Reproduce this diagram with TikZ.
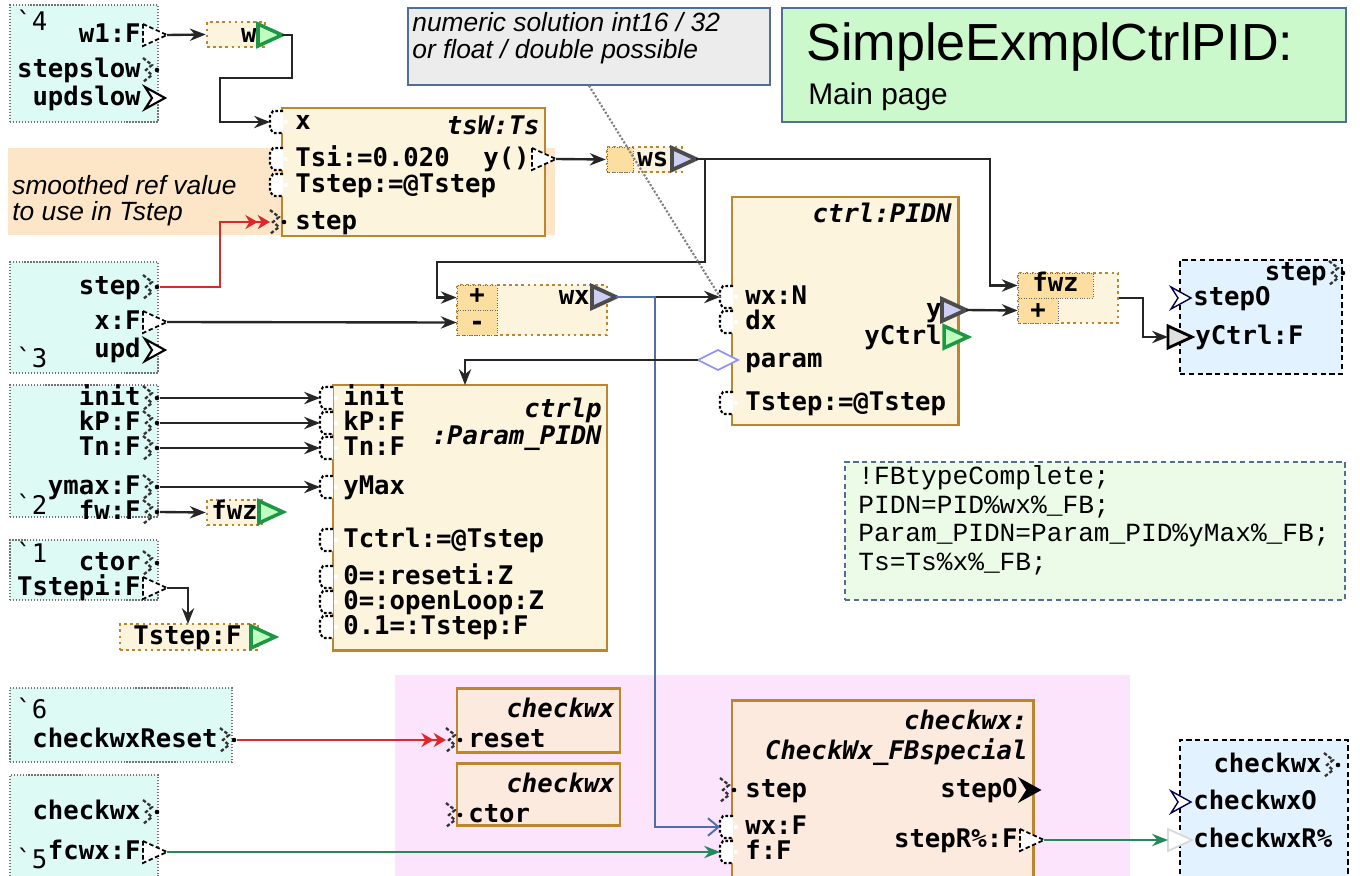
\documentclass[tikz,border=0pt]{standalone}
\usepackage{fontspec}
\setmainfont{Liberation Sans}
\newfontfamily\pinfam{DejaVu Sans Mono}[BoldFont={DejaVu Sans Mono Bold},ItalicFont={DejaVu Sans Mono Oblique},BoldItalicFont={DejaVu Sans Mono Bold Oblique}]
\newfontfamily\codefam{Liberation Mono}
\usepackage{tikz}
\usetikzlibrary{positioning, arrows.meta, fit, backgrounds}

\definecolor{modcyan}{RGB}{221,250,244}
\definecolor{outblue}{RGB}{226,242,254}
\definecolor{blkfill}{RGB}{253,244,222}
\definecolor{blkline}{RGB}{188,134,48}
\definecolor{peach}{RGB}{253,234,222}
\definecolor{pinkbg}{RGB}{252,228,252}
\definecolor{orangenote}{RGB}{253,230,200}
\definecolor{notegrey}{RGB}{236,236,236}
\definecolor{noteline}{RGB}{80,110,150}
\definecolor{titlegreen}{RGB}{204,249,204}
\definecolor{codegreen}{RGB}{236,251,232}
\definecolor{varfill}{RGB}{252,222,160}
\definecolor{greenpin}{RGB}{30,150,70}
\definecolor{lavender}{RGB}{206,206,242}
\definecolor{wireblue}{RGB}{80,110,170}
\definecolor{wiregreen}{RGB}{40,135,90}
\definecolor{wirered}{RGB}{220,40,40}

\newcommand{\pinf}{\pinfam\bfseries\fontsize{14.6}{16}\selectfont}
\newcommand{\tagf}{\pinfam\fontsize{14.6}{16}\selectfont}
\newcommand{\notef}{\itshape\fontsize{15}{17}\selectfont}

% pin symbols, drawn in pixel units of the picture
\tikzset{
  otri/.pic={\path[pic actions] (0,-11) -- (24,0) -- (0,11) -- cycle;
    \coordinate (-w) at (0,0); \coordinate (-e) at (24,0);},
  ipin/.pic={\path[pic actions] (13,-11) -- (3,-11) -- (0,-6) -- (0,6) -- (3,11) -- (13,11);
    \fill (16,0) circle (1.3pt);
    \coordinate (-w) at (0,0);},
  epin/.pic={\path[pic actions] (0,-12) -- (9,-5) -- (3,0) -- (9,5) -- (0,12);
    \fill (14,0) circle (1.3pt);
    \coordinate (-w) at (0,0); \coordinate (-e) at (17,0);},
  chev/.pic={\path[pic actions] (0,-11) -- (20,0) -- (0,11) -- (7,0) -- cycle;
    \coordinate (-w) at (0,0); \coordinate (-e) at (20,0);},
  dia/.pic={\path[pic actions] (0,0) -- (20,-10) -- (40,0) -- (20,10) -- cycle;
    \coordinate (-w) at (0,0);}
}

\begin{document}
\begin{tikzpicture}[x=0.02cm, y=-0.02cm]
\tikzstyle{lbl}=[font=\pinf, inner sep=0pt, text height=11pt, text depth=3pt]
\tikzstyle{ttl}=[font=\pinf\itshape, inner sep=0pt, text height=11pt, text depth=3pt]
\tikzstyle{tag}=[font=\tagf, inner sep=0pt, anchor=west]
\tikzstyle{modbox}=[draw=black!55, densely dotted, fill=modcyan, inner sep=0pt, line width=0.7pt]
\tikzstyle{outbox}=[draw=black, densely dashed, fill=outblue, inner sep=0pt, line width=0.8pt]
\tikzstyle{fblock}=[draw=blkline, line width=1.7pt, fill=blkfill, inner sep=0pt]
\tikzstyle{chkblock}=[fblock, fill=peach]
\tikzstyle{varbox}=[draw=blkline, dotted, line width=1.5pt, fill=blkfill, inner sep=0pt]
\tikzstyle{cell}=[draw=black!60, densely dotted, fill=varfill, inner sep=0pt, minimum width=0.8cm, minimum height=0.5cm, font=\pinf]
\tikzstyle{dpin}=[draw=black, dash pattern=on 2.5pt off 1.5pt, fill=white, line width=1pt]
\tikzstyle{ipinst}=[draw=black, dash pattern=on 1.6pt off 1.2pt, fill=white, line width=1.2pt]
\tikzstyle{epinst}=[draw=black!80, dash pattern=on 2pt off 1.2pt, line width=1.3pt]
\tikzstyle{gtri}=[draw=greenpin, fill=green!25, line width=2pt]
\tikzstyle{btri}=[draw=black!70, fill=lavender, line width=2.2pt]
\tikzstyle{wire}=[draw=black!85, line width=1.35pt, -{Stealth[length=9pt,width=7pt]}]
\tikzstyle{evwire}=[draw=wirered, line width=1.35pt, -{Stealth[length=7pt,width=8pt] Stealth[length=7pt,width=8pt]}]
\useasboundingbox (0,0) rectangle (1360,876);

% notes and backgrounds
\node[fill=orangenote, fit={(8,148) (555,235)}, inner sep=0pt] (smnote) {};
\node[fill=pinkbg, fit={(395,675) (1130,876)}, inner sep=0pt] (chkarea) {};
\node[draw=noteline, fill=notegrey, line width=0.7pt, fit={(408,8) (770,85)}, inner sep=0pt] (numnote) {};
\node[draw=noteline, fill=titlegreen, line width=0.7pt, fit={(782,8) (1346,122)}, inner sep=0pt] (ttlbox) {};
\node[draw=noteline, densely dashed, fill=codegreen, line width=0.7pt, fit={(845,462) (1345,600)}, inner sep=0pt] (codebox) {};
\node[font=\notef, anchor=west, inner sep=0pt] (sm1) at (12,185) {smoothed ref value};
\node[font=\notef, anchor=west, inner sep=0pt] (sm2) at (12,214) {to use in Tstep};
\node[font=\notef, anchor=west, inner sep=0pt] (num1) at (412,22) {numeric solution int16 / 32};
\node[font=\notef, anchor=west, inner sep=0pt] (num2) at (412,52) {or float / double possible};
\node[font=\fontsize{29.7}{32}\selectfont, anchor=west, inner sep=0pt] (ttl1) at (806,47) {SimpleExmplCtrlPID:};
\node[font=\fontsize{17}{19}\selectfont, anchor=west, inner sep=0pt] (ttl2) at (808,97) {Main page};
\node[font=\codefam\fontsize{14.9}{17}\selectfont, anchor=west, inner sep=0pt] (code1) at (858,478) {!FBtypeComplete;};
\node[font=\codefam\fontsize{14.9}{17}\selectfont, anchor=west, inner sep=0pt] (code2) at (858,507) {PIDN=PID\%wx\%\_FB;};
\node[font=\codefam\fontsize{14.9}{17}\selectfont, anchor=west, inner sep=0pt] (code3) at (858,536) {Param\_PIDN=Param\_PID\%yMax\%\_FB;};
\node[font=\codefam\fontsize{14.9}{17}\selectfont, anchor=west, inner sep=0pt] (code4) at (858,564) {Ts=Ts\%x\%\_FB;};

% module 4
\node[modbox, fit={(10,5) (158,122)}] (mod4) {};
\node[tag] (tag4) at (16,20) {\symbol{96}4};
\node[lbl, anchor=east] (m4w1l) at (141,35) {w1:F};
\pic[dpin] (m4w1) at (143,35) {otri};
\node[lbl, anchor=east] (m4ssl) at (141,70) {stepslow};
\pic[epinst] (m4ss) at (143,70) {epin};
\node[lbl, anchor=east] (m4usl) at (141,98) {updslow};
\pic[draw=black, fill=white, line width=1.2pt] (m4us) at (145,98) {chev};

\node[varbox, fit={(207,22) (265,47)}] (wvar) {};
\node[lbl, anchor=east] (wl) at (257,35) {w};
\pic[gtri] (wo) at (258,35) {otri};

% tsW:Ts
\node[fblock, fit={(282,108) (545,236)}] (tsw) {};
\node[ttl, anchor=east] (tswt) at (540,127) {tsW:Ts};
\pic[ipinst] (tswx) at (270,122) {ipin};
\node[lbl, anchor=west] (tswxl) at (295,122) {x};
\pic[ipinst] (tswtsi) at (270,159) {ipin};
\node[lbl, anchor=west] (tswtsil) at (295,159) {Tsi:=0.020};
\pic[ipinst] (tswts) at (270,185) {ipin};
\node[lbl, anchor=west] (tswtsl) at (295,185) {Tstep:=@Tstep};
\pic[epinst] (tswst) at (270,222) {epin};
\node[lbl, anchor=west] (tswstl) at (295,222) {step};
\node[lbl, anchor=east] (tswyl) at (530,159) {y()};
\pic[dpin] (tswy) at (532,159) {otri};

\node[varbox, fit={(607,147) (682,172)}] (wsvar) {};
\node[cell, minimum width=0.52cm] (wscell) at (620,159.5) {};
\node[lbl, anchor=west] (wsl) at (637,159) {ws};
\pic[btri] (wso) at (672,159) {otri};

% module 3
\node[modbox, fit={(10,262) (158,373)}] (mod3) {};
\node[tag] (tag3) at (16,357) {\symbol{96}3};
\node[lbl, anchor=east] (m3stl) at (141,287) {step};
\pic[epinst] (m3st) at (143,287) {epin};
\node[lbl, anchor=east] (m3xl) at (141,322) {x:F};
\pic[dpin] (m3x) at (143,322) {otri};
\node[lbl, anchor=east] (m3upl) at (141,350) {upd};
\pic[draw=black, fill=white, line width=1.2pt] (m3up) at (145,350) {chev};

% wx = ws - x
\node[varbox, fit={(457,285) (607,335)}] (wxvar) {};
\node[cell] (wxplus) at (477,297.5) {};
\node[lbl] (wxplusl) at (477,296) {+};
\node[cell] (wxminus) at (477,322.5) {};
\node[lbl] (wxminusl) at (477,323) {-};
\node[lbl, anchor=east] (wxl) at (590,297) {wx};
\pic[btri] (wxo) at (592,297) {otri};

% ctrl:PIDN
\node[fblock, fit={(732,197) (958,425)}] (ctrl) {};
\node[ttl, anchor=east] (ctrlt) at (952,215) {ctrl:PIDN};
\pic[ipinst] (ctrlwx) at (720,297) {ipin};
\node[lbl, anchor=west] (ctrlwxl) at (745,297) {wx:N};
\pic[ipinst] (ctrldx) at (720,322) {ipin};
\node[lbl, anchor=west] (ctrldxl) at (745,322) {dx};
\pic[draw=lavender!70!blue, fill=white, line width=1pt] (ctrlpar) at (698,360) {dia};
\node[lbl, anchor=west] (ctrlparl) at (745,360) {param};
\pic[ipinst] (ctrlts) at (720,403) {ipin};
\node[lbl, anchor=west] (ctrltsl) at (745,403) {Tstep:=@Tstep};
\node[lbl, anchor=east] (ctrlyl) at (942,310) {y};
\pic[btri] (ctrly) at (942,310) {otri};
\node[lbl, anchor=east] (ctrlycl) at (942,337) {yCtrl};
\pic[gtri] (ctrlyc) at (944,337) {otri};

% fwz + y
\node[varbox, fit={(1018,273) (1118,323)}] (fwzsum) {};
\node[cell, minimum width=1.5cm] (fwzc) at (1055.5,285.5) {};
\node[lbl, anchor=west] (fwzcl) at (1032,284) {fwz};
\node[cell] (fwzplus) at (1038,310.5) {};
\node[lbl] (fwzplusl) at (1038,311) {+};

% outputs
\node[outbox, fit={(1180,260) (1342,374)}] (outmod) {};
\node[lbl, anchor=east] (outstl) at (1327,273) {step};
\pic[epinst] (outst) at (1329,273) {epin};
\pic[draw=blue!30!black, fill=white, line width=0.8pt] (outso) at (1171,298) {chev};
\node[lbl, anchor=west] (outsol) at (1193,298) {stepO};
\pic[draw=black, fill=black!12, line width=1.6pt] (outyc) at (1168,337) {otri};
\node[lbl, anchor=west] (outycl) at (1195,337) {yCtrl:F};

% module 2
\node[modbox, fit={(10,385) (158,517)}] (mod2) {};
\node[tag] (tag2) at (16,504) {\symbol{96}2};
\node[lbl, anchor=east] (m2inl) at (141,398) {init};
\pic[epinst] (m2in) at (143,398) {epin};
\node[lbl, anchor=east] (m2kpl) at (141,423) {kP:F};
\pic[epinst] (m2kp) at (143,423) {epin};
\node[lbl, anchor=east] (m2tnl) at (141,448) {Tn:F};
\pic[epinst] (m2tn) at (143,448) {epin};
\node[lbl, anchor=east] (m2yml) at (141,487) {ymax:F};
\pic[epinst] (m2ym) at (143,487) {epin};
\node[lbl, anchor=east] (m2fwl) at (141,512) {fw:F};
\pic[epinst] (m2fw) at (143,512) {epin};

\node[varbox, fit={(207,500) (262,525)}] (fwzvar) {};
\node[lbl, anchor=west] (fwzl) at (211,512) {fwz};
\pic[gtri] (fwzo) at (259,512) {otri};

% module 1
\node[modbox, fit={(10,540) (158,600)}] (mod1) {};
\node[tag] (tag1) at (16,552) {\symbol{96}1};
\node[lbl, anchor=east] (m1ctl) at (141,563) {ctor};
\pic[epinst] (m1ct) at (143,563) {epin};
\node[lbl, anchor=east] (m1tsl) at (141,588) {Tstepi:F};
\pic[dpin] (m1ts) at (143,588) {otri};

\node[varbox, fit={(120,624) (258,650)}] (tsvar) {};
\node[lbl, anchor=west] (tsl) at (133,637) {Tstep:F};
\pic[gtri] (tso) at (251,637) {otri};
\coordinate (tsin) at (188,624);

% ctrlp:Param_PIDN
\node[fblock, fit={(333,385) (607,650)}] (ctrlp) {};
\node[ttl, anchor=east] (ctrlpt1) at (602,410) {ctrlp};
\node[ttl, anchor=east] (ctrlpt2) at (602,437) {:Param\_PIDN};
\coordinate (ctrlpin) at (465,385);
\pic[ipinst] (cpinit) at (320,398) {ipin};
\node[lbl, anchor=west] (cpinitl) at (343,398) {init};
\pic[ipinst] (cpkp) at (320,423) {ipin};
\node[lbl, anchor=west] (cpkpl) at (343,423) {kP:F};
\pic[ipinst] (cptn) at (320,448) {ipin};
\node[lbl, anchor=west] (cptnl) at (343,448) {Tn:F};
\pic[ipinst] (cpym) at (320,487) {ipin};
\node[lbl, anchor=west] (cpyml) at (343,487) {yMax};
\pic[ipinst] (cptc) at (320,540) {ipin};
\node[lbl, anchor=west] (cptcl) at (343,540) {Tctrl:=@Tstep};
\pic[ipinst] (cpre) at (320,577) {ipin};
\node[lbl, anchor=west] (cprel) at (343,577) {0=:reseti:Z};
\pic[ipinst] (cpol) at (320,602) {ipin};
\node[lbl, anchor=west] (cpoll) at (343,602) {0=:openLoop:Z};
\pic[ipinst] (cpts) at (320,627) {ipin};
\node[lbl, anchor=west] (cptsl) at (343,627) {0.1=:Tstep:F};

% module 6 and checkwx events
\node[modbox, fit={(10,688) (232,762)}] (mod6) {};
\node[tag] (tag6) at (16,708) {\symbol{96}6};
\node[lbl, anchor=east] (m6rsl) at (218,740) {checkwxReset};
\pic[epinst] (m6rs) at (220,740) {epin};

\node[chkblock, fit={(457,688) (620,752)}] (chkrst) {};
\node[ttl, anchor=east] (chkrstt) at (615,710) {checkwx};
\pic[epinst] (chkrstin) at (446,740) {epin};
\node[lbl, anchor=west] (chkrstl) at (468,740) {reset};
\node[chkblock, fit={(457,763) (620,825)}] (chkctor) {};
\node[ttl, anchor=east] (chkctort) at (615,785) {checkwx};
\pic[epinst] (chkctorin) at (446,815) {epin};
\node[lbl, anchor=west] (chkctorl) at (468,815) {ctor};

% module 5
\node[modbox, fit={(10,775) (158,890)}] (mod5) {};
\node[tag] (tag5) at (16,858) {\symbol{96}5};
\node[lbl, anchor=east] (m5cwl) at (141,812) {checkwx};
\pic[epinst] (m5cw) at (143,812) {epin};
\node[lbl, anchor=east] (m5fl) at (141,852) {fcwx:F};
\pic[dpin] (m5f) at (143,852) {otri};

% checkwx:CheckWx_FBspecial
\node[chkblock, fit={(732,700) (1033,890)}] (chkfb) {};
\node[ttl, anchor=east] (chkfbt1) at (1028,722) {checkwx:};
\node[ttl, anchor=east] (chkfbt2) at (1028,752) {CheckWx\_FBspecial};
\pic[epinst] (chkst) at (720,790) {epin};
\node[lbl, anchor=west] (chkstl) at (745,790) {step};
\pic[ipinst] (chkwx) at (720,827) {ipin};
\node[lbl, anchor=west] (chkwxl) at (745,827) {wx:F};
\pic[ipinst] (chkf) at (720,852) {ipin};
\node[lbl, anchor=west] (chkfl) at (745,852) {f:F};
\node[lbl, anchor=east] (chksol) at (1018,790) {stepO};
\pic[draw=black, fill=black, line width=0.8pt] (chkso) at (1020,790) {chev};
\node[lbl, anchor=east] (chksrl) at (1018,840) {stepR\%:F};
\pic[dpin] (chksr) at (1020,840) {otri};

\node[outbox, fit={(1180,740) (1348,890)}] (outchk) {};
\node[lbl, anchor=east] (outcwl) at (1322,765) {checkwx};
\pic[epinst] (outcw) at (1324,765) {epin};
\pic[draw=blue!30!black, fill=white, line width=0.8pt] (outco) at (1171,802) {chev};
\node[lbl, anchor=west] (outcol) at (1193,802) {checkwxO};
\pic[draw=black!15, fill=white, line width=1pt] (outcr) at (1168,840) {otri};
\node[lbl, anchor=west] (outcrl) at (1193,840) {checkwxR\%};

% connections
\draw[wire] (m4w1-e) -- (wvar.west);
\draw[wire] (wo-e) -- (292,35) |- (220,78) |- (tswx-w);
\draw[evwire] (m3st-e) -| (220,250) |- (tswst-w);
\draw[wire] (tswy-e) -- (wsvar.west);
\draw[wire] (wso-e) -- (990,159) |- (fwzc.west);
\draw[wire] (wso-e) -- (705,159) |- (437,262) |- (wxplus.west);
\draw[wire] (m3x-e) -- (wxminus.west);
\draw[wire] (wxo-e) -- (ctrlwx-w);
\draw[draw=wireblue, line width=1.1pt, -{Straight Barb[length=6pt,width=10pt]}] (wxo-e) -- (655,297) |- (chkwx-w);
\draw[gray, densely dotted, line width=1.2pt] (numnote.south) -- (ctrlwx-w);
\draw[wire] (ctrlpar-w) -| (ctrlpin);
\draw[wire] (ctrly-e) -- (fwzplus.west);
\draw[wire] (fwzsum.east) -- (1143,298) |- (outyc-w);
\draw[wire] (m2in-e) -- (cpinit-w);
\draw[wire] (m2kp-e) -- (cpkp-w);
\draw[wire] (m2tn-e) -- (cptn-w);
\draw[wire] (m2ym-e) -- (cpym-w);
\draw[wire] (m2fw-e) -- (fwzvar.west);
\draw[wire] (m1ts-e) -| (tsin);
\draw[evwire] (m6rs-e) -- (chkrstin-w);
\draw[draw=wiregreen, line width=1.35pt, -{Stealth[length=9pt,width=7pt]}] (m5f-e) -- (chkf-w);
\draw[draw=wiregreen, line width=1.35pt, -{Stealth[length=9pt,width=7pt]}] (chksr-e) -- (outcr-w);

\end{tikzpicture}
\end{document}
